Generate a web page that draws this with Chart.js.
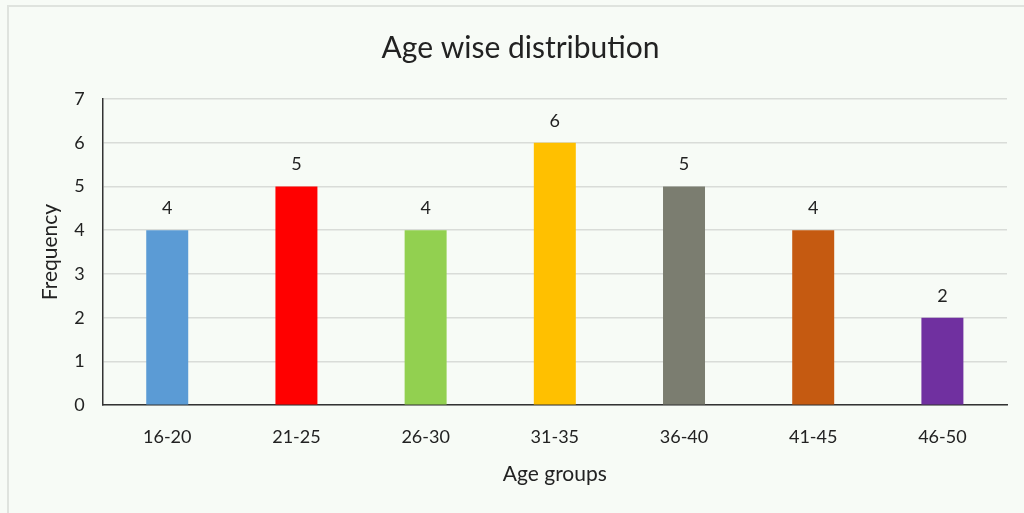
<!DOCTYPE html>
<html>
<head>
<meta charset="utf-8">
<script src="https://cdn.jsdelivr.net/npm/chart.js@4.4.0/dist/chart.umd.min.js"></script>
<style>
  html, body { margin: 0; padding: 0; background: #f7fbf6; }
  #box { position: absolute; left: 7px; top: 5px; width: 1030px; height: 520px;
         border: 2px solid #dfe3de; box-sizing: border-box; }
  #wrap { position: absolute; left: 0; top: 0; width: 1024px; height: 513px; }
</style>
</head>
<body>
<div id="box"></div>
<div id="wrap"><canvas id="grafico"></canvas></div>
<script>
// Dados do gráfico
var categorias = ['16-20', '21-25', '26-30', '31-35', '36-40', '41-45', '46-50'];
var frequencia = [4, 5, 4, 6, 5, 4, 2];
var cores = ['#5b9bd5', '#ff0000', '#92d050', '#ffc000', '#7b7d70', '#c55a11', '#7030a0'];

// Escreve o valor em cima de cada barra
var rotulos = {
  id: 'rotulos',
  afterDatasetsDraw: function (chart) {
    var ctx = chart.ctx;
    var meta = chart.getDatasetMeta(0);
    ctx.save();
    ctx.font = '18px Lato';
    ctx.fillStyle = '#222';
    ctx.textAlign = 'center';
    ctx.textBaseline = 'bottom';
    meta.data.forEach(function (bar, i) {
      ctx.fillText(chart.data.datasets[0].data[i], bar.x, bar.y - 13);
    });
    ctx.restore();
  }
};

var ctx = document.getElementById('grafico').getContext('2d');
var grafico = new Chart(ctx, {
  type: 'bar',
  data: {
    labels: categorias,
    datasets: [{
      label: 'Frequency',
      data: frequencia,
      backgroundColor: cores,
      barPercentage: 0.65,
      categoryPercentage: 0.5
    }]
  },
  options: {
    responsive: true,
    maintainAspectRatio: false,
    animation: false,
    layout: { padding: { left: 34, right: 17, top: 20, bottom: 22 } },
    plugins: {
      legend: { display: false },
      tooltip: { enabled: false },
      title: {
        display: true,
        text: 'Age wise distribution',
        color: '#222',
        font: { family: 'Lato', size: 30, weight: 'normal' },
        padding: { top: 10, bottom: 33 }
      }
    },
    scales: {
      y: {
        min: 0,
        max: 7,
        ticks: { stepSize: 1, color: '#222', font: { family: 'Lato', size: 18 }, padding: 18 },
        grid: { color: '#d9dcd8', lineWidth: 1.5, drawTicks: false },
        border: { color: '#333', width: 1.5 },
        title: { display: true, text: 'Frequency', color: '#222', font: { family: 'Lato', size: 21 }, padding: { bottom: -7 } }
      },
      x: {
        ticks: { color: '#222', font: { family: 'Lato', size: 18 }, padding: 21 },
        grid: { display: false, drawTicks: false },
        border: { color: '#333', width: 1.5 },
        title: { display: true, text: 'Age groups', color: '#222', font: { family: 'Lato', size: 21 }, padding: { top: -7 } }
      }
    }
  },
  plugins: [rotulos]
});
</script>
</body>
</html>
